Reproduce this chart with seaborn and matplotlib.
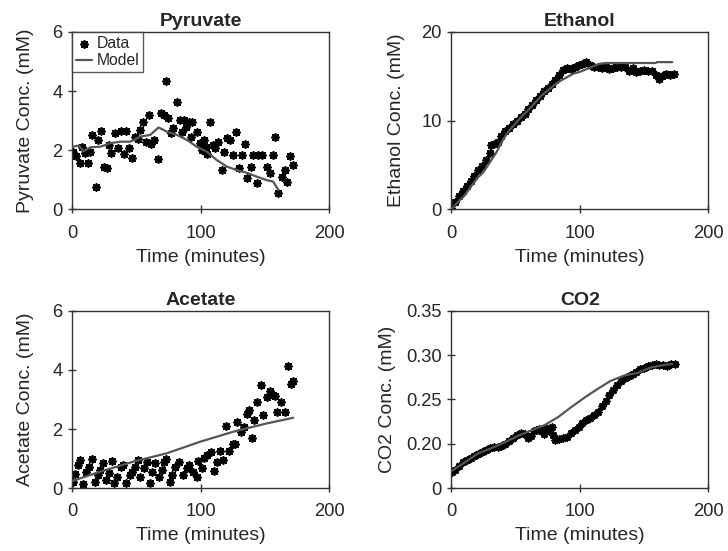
import numpy as np
import pandas as pd
import seaborn as sns
import matplotlib.pyplot as plt

# --- Pyruvate (data points + model) ---
pyr_t = [0.8, 3.4, 6, 7.8, 10.3, 12.2, 13.7, 15.8, 18.6, 20.2, 22.5, 24.6, 27.2, 28.5,
         30.5, 33.6, 35.7, 38, 40.1, 42.2, 44, 46.6, 48.6, 51, 53, 55.1, 57.4, 59.5,
         61.3, 63.9, 66.7, 69.3, 71.7, 73.2, 75, 76.8, 78.9, 82, 83.6, 85.4, 86.7, 88.7,
         90.6, 92.4, 93.1, 97.5, 99.6, 100.9, 102.7, 104.3, 105.3, 107.4, 110, 111.3,
         113.8, 116.4, 118.2, 120.3, 122.9, 125, 127.6, 130.1, 131.9, 134.5, 136.3, 139,
         141, 143.6, 144.9, 147.5, 151.4, 153.9, 156.5, 157.8, 160.4, 163, 165.6, 167.4,
         169.5, 172]
pyr_y = [1.95, 1.81, 1.56, 2.12, 1.9, 1.56, 1.95, 2.52, 0.75, 2.35, 2.65, 1.45, 1.39, 2.18,
         1.9, 2.58, 2.07, 2.65, 1.88, 2.65, 2.07, 1.75, 2.46, 2.37, 2.67, 2.94, 2.29, 3.2,
         2.2, 2.35, 1.72, 3.25, 3.2, 4.33, 3.08, 2.58, 2.75, 3.62, 3.03, 2.63, 3.03, 2.8,
         2.97, 2.46, 2.97, 2.63, 2.24, 2.01, 2.35, 2.12, 1.88, 2.97, 2.18, 2.07,
         2.29, 1.33, 1.95, 2.41, 2.35, 1.84, 2.63, 1.39, 1.84, 2.21, 1.05, 1.45,
         1.84, 0.88, 1.84, 1.84, 1.45, 1.22, 1.84, 2.44, 0.54, 1.11, 1.33, 0.94,
         1.79, 1.5]
pyr_mt = [0, 0.8, 5.2, 9, 14.2, 22, 29.8, 37.5, 45.3, 53, 60.8, 67.3, 73.7, 81.5, 89.3,
          97, 104.8, 112.5, 120.3, 128, 135.8, 143.6, 151.4, 156.5, 160.4]
pyr_my = [2.1, 2.12, 2.16, 1.97, 2.1, 2.12, 2.24, 2.29, 2.29, 2.46, 2.52, 2.77, 2.63, 2.52,
          2.35, 2.12, 1.95, 1.67, 1.45, 1.33, 1.24, 1.11, 0.99, 0.94, 0.66]

# --- Ethanol ---
eth_t = [0, 3, 6, 9, 12, 15, 18, 21, 24, 27, 30, 31, 33, 36, 39, 42, 45, 48, 51, 54, 57,
         60, 63, 66, 69, 72, 75, 78, 81, 84, 87, 90, 93, 96, 99, 102, 105, 108, 111, 114,
         117, 120, 123, 126, 129, 132, 135, 138, 141, 144, 147, 150, 153, 156, 159, 162,
         164, 167, 170, 173]
eth_y = [0.2, 0.8, 1.5, 2.1, 2.6, 3.2, 3.8, 4.4, 4.9, 5.6, 6.4, 7.3, 7.4, 7.6, 8.3, 8.8,
         9.2, 9.6, 10.0, 10.4, 10.8, 11.3, 11.8, 12.3, 12.8, 13.3, 13.7, 14.1, 14.6, 15.2,
         15.7, 15.9, 15.8, 16.1, 16.3, 16.4, 16.6, 16.3, 16.0, 16.0, 15.9, 16.1, 15.8, 15.9,
         16.0, 16.1, 16.0, 15.6, 15.9, 15.5, 15.6, 15.7, 15.6, 15.6, 15.2, 14.7, 15.0, 15.3,
         15.1, 15.3]
eth_mt = [0, 5, 10, 15, 20, 25, 30, 35, 40, 45, 50, 55, 60, 65, 70, 75, 80, 85, 90, 95,
          100, 105, 110, 115, 120, 159, 160, 172]
eth_my = [0, 0.8, 1.5, 2.5, 3.5, 4.2, 5.3, 6.4, 7.8, 8.9, 9.7, 10.5, 11.2, 12.0, 12.8,
          13.4, 14.0, 14.5, 14.9, 15.3, 15.5, 15.8, 16.1, 16.4, 16.5, 16.5, 16.6, 16.6]

# --- Acetate ---
ace_t = [0.8, 2.6, 4.4, 6, 8.5, 11.1, 12.9, 15.5, 18.1, 20, 22, 24, 26.6, 28.5, 31, 32.9,
         35, 38, 39.6, 42.2, 44.8, 46.6, 49, 51, 53, 56, 58.2, 60.3, 62, 64.7, 68, 69.9,
         71.7, 73.2, 76.3, 77.6, 80.2, 82.8, 86.2, 89.3, 91.3, 93.9, 97, 98.3, 100.9,
         102.7, 105.3, 107.9, 110.5, 113, 115.1, 117.2, 119.8, 122.4, 125, 126.8, 128.6,
         131.2, 133.8, 135.8, 137.9, 139.7, 141.5, 144.1, 146.7, 148.8, 151.4, 153.9, 156,
         157.8, 159.6, 162.2, 165.6, 168.2, 170, 172]
ace_y = [0.22, 0.47, 0.78, 0.95, 0.13, 0.56, 0.73, 0.99, 0.22, 0.45, 0.62, 0.86, 0.28, 0.5,
         0.92, 0.17, 0.39, 0.73, 0.78, 0.17, 0.45, 0.56, 0.73, 0.95, 0.39, 0.67, 0.9, 0.17,
         0.56, 0.84, 0.39, 0.62, 0.9, 1.0, 0.22, 0.45, 0.7, 0.9, 0.45, 0.67, 0.78, 0.56,
         0.39, 0.92, 0.67, 1.03, 1.12, 1.21, 0.58, 0.87, 1.26, 0.95, 2.11, 1.26, 1.51,
         1.51, 2.24, 1.91, 2.07, 2.52, 2.63, 1.7, 2.3, 2.91, 3.48, 2.49, 3.07, 3.3, 3.14,
         3.12, 2.58, 2.91, 2.58, 4.13, 3.53, 3.61]
ace_mt = [0, 22, 47.9, 73.7, 99.6, 125.5, 151.4, 172]
ace_my = [0.24, 0.56, 0.9, 1.18, 1.57, 1.91, 2.19, 2.38]

# --- CO2 ---
co2_t = [0.5, 3, 6, 9, 12, 15, 18, 21, 24, 27, 30, 33, 36, 39, 42, 45, 48, 51, 54, 57, 60,
         62, 64, 66, 68, 70, 72, 74, 76, 78, 79, 81, 84, 87, 90, 93, 96, 99, 102, 105, 108,
         111, 114, 117, 120, 123, 126, 129, 132, 135, 138, 141, 144, 147, 150, 153, 156,
         159, 162, 165, 168, 171, 174]
co2_y = [0.168, 0.171, 0.175, 0.179, 0.182, 0.184, 0.186, 0.189, 0.191, 0.193, 0.195,
         0.196, 0.196, 0.198, 0.200, 0.203, 0.207, 0.210, 0.212, 0.211, 0.206, 0.209, 0.215,
         0.216, 0.217, 0.215, 0.211, 0.218, 0.216, 0.219, 0.210, 0.204, 0.205, 0.206,
         0.208, 0.212, 0.216, 0.219, 0.224, 0.227, 0.229, 0.232, 0.236, 0.243, 0.248,
         0.255, 0.261, 0.266, 0.271, 0.274, 0.277, 0.279, 0.281, 0.284, 0.286, 0.288,
         0.289, 0.290, 0.289, 0.289, 0.288, 0.290, 0.290]
co2_mt = [0, 10.4, 20.7, 31, 41.4, 51.8, 62, 72.5, 83, 93, 103.6, 114, 124, 134.7, 145,
          155, 166, 172]
co2_my = [0.169, 0.179, 0.189, 0.195, 0.2015, 0.209, 0.215, 0.221, 0.230, 0.241, 0.252,
          0.262, 0.271, 0.277, 0.280, 0.286, 0.289, 0.290]

sns.set_theme(style="white")
plt.rcParams['font.family'] = ['Liberation Sans', 'DejaVu Sans']
plt.rcParams['axes.edgecolor'] = '#333333'
plt.rcParams['axes.linewidth'] = 1.0

fig, axes = plt.subplots(2, 2, figsize=(7.28, 5.51), dpi=100)
fig.subplots_adjust(left=0.099, right=0.973, top=0.942, bottom=0.114,
                    wspace=0.475, hspace=0.571)

# axis, title, data, model, ylabel, marker size, marker lw, ylabel pad
panels = [
    (axes[0, 0], "Pyruvate", pyr_t, pyr_y, pyr_mt, pyr_my, "Pyruvate Conc. (mM)", 26, 1.3, 13),
    (axes[0, 1], "Ethanol", eth_t, eth_y, eth_mt, eth_my, "Ethanol Conc. (mM)", 24, 1.3, 12),
    (axes[1, 0], "Acetate", ace_t, ace_y, ace_mt, ace_my, "Acetate Conc. (mM)", 26, 1.3, 13),
    (axes[1, 1], "CO2", co2_t, co2_y, co2_mt, co2_my, "CO2 Conc. (mM)", 22, 1.3, 7),
]

star = (8, 2, 0)
for ax, title, t, y, mt, my, ylab, ms, mlw, lpad in panels:
    sns.scatterplot(x=t, y=y, ax=ax, marker=star, s=ms, color='black',
                    linewidth=mlw, label='Data', zorder=2)
    sns.lineplot(x=mt, y=my, ax=ax, color='#555555', linewidth=1.6,
                 label='Model', zorder=3)
    ax.set_title(title, fontsize=14, fontweight='bold', pad=4)
    ax.set_xlabel("Time (minutes)", fontsize=14, labelpad=5)
    ax.set_ylabel(ylab, fontsize=14, labelpad=lpad)
    ax.set_xlim(0, 200)
    ax.set_xticks([0, 100, 200])
    ax.tick_params(axis='both', labelsize=13.2, length=6, width=1,
                   direction='inout', bottom=True, left=True, color='#333333')
    ax.tick_params(axis='x', pad=8)
    ax.tick_params(axis='y', pad=4)
    if title != "Pyruvate":
        ax.get_legend().remove()

axes[0, 0].set_ylim(0, 6)
axes[0, 0].set_yticks([0, 2, 4, 6])
axes[0, 1].set_ylim(0, 20)
axes[0, 1].set_yticks([0, 10, 20])
axes[1, 0].set_ylim(0, 6)
axes[1, 0].set_yticks([0, 2, 4, 6])
axes[1, 1].set_ylim(0.15, 0.35)
axes[1, 1].set_yticks([0.15, 0.20, 0.25, 0.30, 0.35])
axes[1, 1].set_yticklabels(['0', '0.20', '0.25', '0.30', '0.35'])

leg = axes[0, 0].legend(loc='upper left', fontsize=11.3, frameon=True, fancybox=False,
                        borderaxespad=0, handlelength=1.0, handletextpad=0.3,
                        borderpad=0.25, labelspacing=0.15)
leg.get_frame().set_edgecolor('#333333')
leg.get_frame().set_linewidth(1.0)

plt.savefig('out.png', dpi=100)
